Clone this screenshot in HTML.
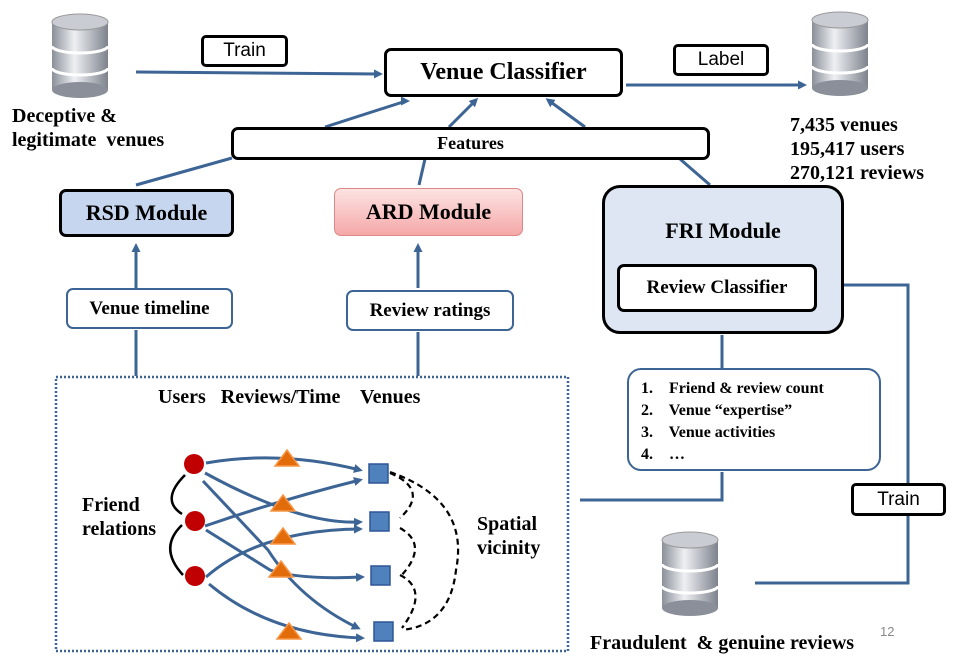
<!DOCTYPE html>
<html><head><style>
body{margin:0;width:966px;height:668px;background:#fff;overflow:hidden;position:relative;font-family:"Liberation Serif",serif;}
.b{position:absolute;box-sizing:border-box;border:3px solid #000;border-radius:7px;background:#fff;display:flex;align-items:center;justify-content:center;font-weight:bold;}
.t{position:absolute;font-weight:bold;font-size:20px;line-height:24px;}
.s{font-family:"Liberation Sans",sans-serif;font-weight:normal;font-size:19px;}
</style></head><body>
<svg width="966" height="668" style="position:absolute;left:0;top:0">
<defs>
<marker id="a" markerWidth="9" markerHeight="9" refX="6" refY="4.5" orient="auto" markerUnits="userSpaceOnUse"><path d="M0,0L9,4.5L0,9z" fill="#3c6494"/></marker>
<linearGradient id="g" x1="0" x2="1"><stop offset="0" stop-color="#8a8f99"/><stop offset=".4" stop-color="#eef0f3"/><stop offset="1" stop-color="#7d828c"/></linearGradient>
<g id="db"><rect x="-28" y="0" width="56" height="68" fill="url(#g)"/><ellipse cx="0" cy="68" rx="28" ry="8" fill="#8a8f99"/><ellipse cx="0" cy="0" rx="28" ry="8" fill="#c9ccd2" stroke="#999"/><path d="M-28,24 a28,7 0 0 0 56,0 M-28,46 a28,7 0 0 0 56,0" stroke="#fff" stroke-width="3" fill="none"/></g>
</defs>
<use href="#db" x="80" y="22"/>
<use href="#db" x="840" y="20"/>
<use href="#db" x="690" y="540"/>
<g stroke="#3c6494" stroke-width="3" fill="none">
<path d="M136,72L380,74" marker-end="url(#a)"/>
<path d="M626,85L804,85" marker-end="url(#a)"/>
<path d="M136,185L232,158M325,127L406,101" />
<path d="M406,101l1,0" marker-end="url(#a)"/>
<path d="M419,185L425,159M449,127L476,100" marker-end="url(#a)"/>
<path d="M710,185L680,159M585,127L548,100" marker-end="url(#a)"/>
<path d="M136,288L136,246" marker-end="url(#a)"/>
<path d="M418,288L418,246" marker-end="url(#a)"/>
<path d="M136,330V376M418,332V376M722,335V369M722,472V500H580"/>
<path d="M755,583H908V285H822" marker-end="url(#a)"/>
</g>
<rect x="56" y="377" width="512" height="274" fill="none" stroke="#3c6494" stroke-width="2.5" stroke-dasharray="2,2"/>
<g stroke="#3c6494" stroke-width="3" fill="none" marker-end="url(#a)">
<path d="M206,463Q280,450 360,470"/>
<path d="M205,473Q300,525 360,522"/>
<path d="M203,481L268,550Q300,600 358,628"/>
<path d="M205,526Q280,500 360,480"/>
<path d="M206,530L270,570Q300,580 362,577"/>
<path d="M206,577Q260,530 360,529"/>
<path d="M209,584Q270,635 362,638"/>
</g>
<g stroke="#000" stroke-width="2.5" fill="none">
<path d="M185,475Q160,500 182,514M182,525Q158,548 183,575"/>
</g>
<g stroke="#000" stroke-width="2.2" fill="none" stroke-dasharray="6,4">
<path d="M390,473Q430,490 400,518M400,528Q430,545 400,577M400,575Q430,590 402,628M390,472Q470,500 456,570Q450,625 402,630"/>
</g>
<g fill="#c00000"><circle cx="194" cy="464" r="10"/><circle cx="195" cy="521" r="10"/><circle cx="195" cy="576" r="10"/></g>
<g fill="#e36c0a" stroke="#f79646" stroke-width="1.5">
<path d="M287,450l12,16h-24z"/><path d="M283,495l12,16h-24z"/><path d="M283,528l12,16h-24z"/><path d="M281,561l12,16h-24z"/><path d="M289,623l12,16h-24z"/>
</g>
<g fill="#4f81bd" stroke="#2f5597" stroke-width="1.5">
<rect x="369" y="464" width="19" height="19"/><rect x="370" y="512" width="19" height="19"/><rect x="371" y="566" width="19" height="19"/><rect x="374" y="622" width="19" height="19"/>
</g>
</svg>
<div class="b s" style="left:201px;top:35px;width:87px;height:32px;border-radius:5px">Train</div>
<div class="b s" style="left:673px;top:44px;width:96px;height:32px;border-radius:5px">Label</div>
<div class="b s" style="left:851px;top:483px;width:95px;height:33px;border-radius:5px">Train</div>
<div class="b" style="left:384px;top:48px;width:239px;height:49px;font-size:24px">Venue Classifier</div>
<div class="b" style="left:231px;top:127px;width:479px;height:33px;font-size:18px">Features</div>
<div class="b" style="left:59px;top:189px;width:175px;height:48px;font-size:22px;background:#c5d6ee">RSD Module</div>
<div class="b" style="left:334px;top:188px;width:189px;height:48px;font-size:22px;background:linear-gradient(#fde3e3,#f5a8a8);border:1px solid #d88;color:#000">ARD Module</div>
<div class="b" style="left:602px;top:185px;width:242px;height:149px;border-radius:18px;background:#dde6f2;align-items:flex-start;padding-top:30px;font-size:22px">FRI Module</div>
<div class="b" style="left:617px;top:264px;width:200px;height:48px;font-size:19px">Review Classifier</div>
<div class="b" style="left:66px;top:288px;width:167px;height:41px;border:2px solid #3c6494;font-size:19px">Venue timeline</div>
<div class="b" style="left:346px;top:290px;width:168px;height:41px;border:2px solid #3c6494;font-size:19px">Review ratings</div>
<div class="b" style="left:627px;top:368px;width:254px;height:103px;border:2px solid #3c6494;border-radius:14px;display:block;font-size:16px;line-height:22px;padding:8px 0 0 12px">
<div>1.&nbsp;&nbsp;&nbsp; Friend &amp; review count</div><div>2.&nbsp;&nbsp;&nbsp; Venue “expertise”</div><div>3.&nbsp;&nbsp;&nbsp; Venue activities</div><div>4.&nbsp;&nbsp;&nbsp; …</div></div>
<div class="t" style="left:12px;top:104px">Deceptive &amp;<br>legitimate&nbsp; venues</div>
<div class="t" style="left:790px;top:113px">7,435 venues<br>195,417 users<br>270,121 reviews</div>
<div class="t" style="left:158px;top:385px">Users&nbsp;&nbsp; Reviews/Time&nbsp;&nbsp;&nbsp; Venues</div>
<div class="t" style="left:82px;top:493px">Friend<br>relations</div>
<div class="t" style="left:477px;top:512px">Spatial<br>vicinity</div>
<div class="t" style="left:590px;top:631px">Fraudulent&nbsp; &amp; genuine reviews</div>
<div style="position:absolute;left:880px;top:624px;font-family:'Liberation Sans',sans-serif;font-size:13px;color:#888">12</div>
</body></html>
